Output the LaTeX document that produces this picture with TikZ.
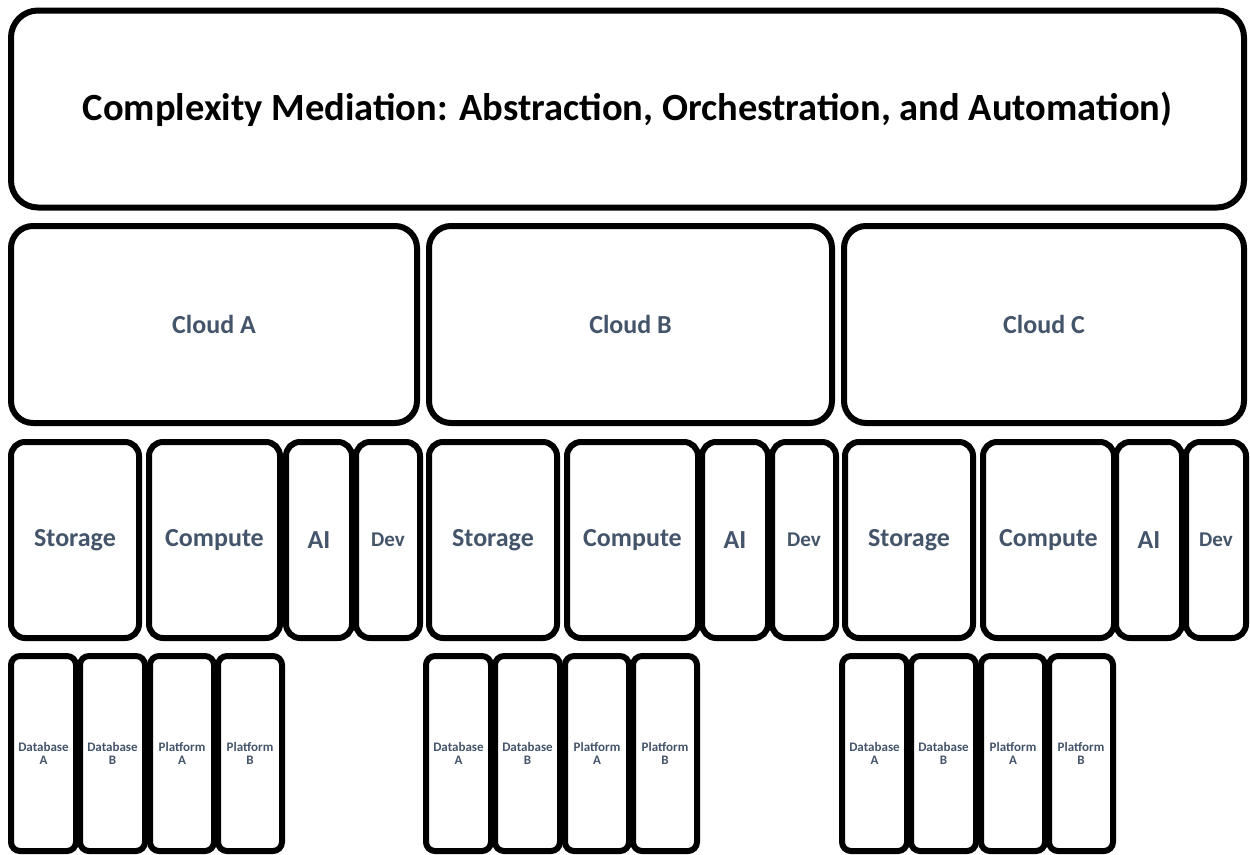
\documentclass[tikz,border=0pt]{standalone}
\usepackage{fontspec}
\setmainfont{Carlito}
\definecolor{labelblue}{HTML}{44546A}
\begin{document}
\begin{tikzpicture}[x=1pt,y=-1pt,
  box/.style={draw=black, line width=6pt, inner sep=0pt, outer sep=0pt, align=center, font=\bfseries},
  titlebox/.style={box, rounded corners=27pt, font=\bfseries\fontsize{38.5}{46}\selectfont},
  cloudbox/.style={box, rounded corners=22pt, text=labelblue, font=\bfseries\fontsize{26}{31}\selectfont},
  svcbox/.style={box, rounded corners=14pt, text=labelblue, font=\bfseries\fontsize{26}{31}\selectfont},
  devbox/.style={svcbox, font=\bfseries\fontsize{21}{25}\selectfont},
  itembox/.style={box, rounded corners=9pt, text=labelblue, font=\bfseries\fontsize{13}{13.5}\selectfont}]
\useasboundingbox (0,0) rectangle (1250,854);
\clip (0,0) rectangle (1250,854);

% title band
\node[titlebox, minimum width=1233pt, minimum height=197pt] (title) at (627.5,109)
  {Complexity Mediation: Abstraction, Orchestration, and Automation)};

% cloud providers
\node[cloudbox, minimum width=406pt, minimum height=197pt] (cloudA) at (214,324.5) {Cloud A};
\node[cloudbox, minimum width=403pt, minimum height=197pt] (cloudB) at (630.5,324.5) {Cloud B};
\node[cloudbox, minimum width=400pt, minimum height=197pt] (cloudC) at (1044,324.5) {Cloud C};

% service rows: left offset of storage/compute, left offset of AI/Dev, width of Dev
\foreach \s/\t/\dw/\c in {0/0/64/A,418/416/64/B,834/830/60/C}{
  \node[svcbox, minimum width=128pt, minimum height=196pt] (storage\c) at (75+\s,540) {Storage};
  \node[svcbox, minimum width=131pt, minimum height=196pt] (compute\c) at (214.5+\s,540) {Compute};
  \node[svcbox, minimum width=66pt, minimum height=196pt] (ai\c) at (319+\t,540) {AI};
  \node[devbox, minimum width=\dw pt, minimum height=196pt] (dev\c) at (356+\t+\dw/2,540) {Dev};
}

% databases and platforms
\foreach \s/\c in {0/A,415/B,831/C}{
  \node[itembox, minimum width=65pt, minimum height=195pt] (dbA\c) at (43.5+\s,753.5) {Database\\A};
  \node[itembox, minimum width=65pt, minimum height=195pt] (dbB\c) at (112.5+\s,753.5) {Database\\B};
  \node[itembox, minimum width=64pt, minimum height=195pt] (plA\c) at (182+\s,753.5) {Platform\\A};
  \node[itembox, minimum width=64pt, minimum height=195pt] (plB\c) at (250+\s,753.5) {Platform\\B};
}
\end{tikzpicture}
\end{document}
